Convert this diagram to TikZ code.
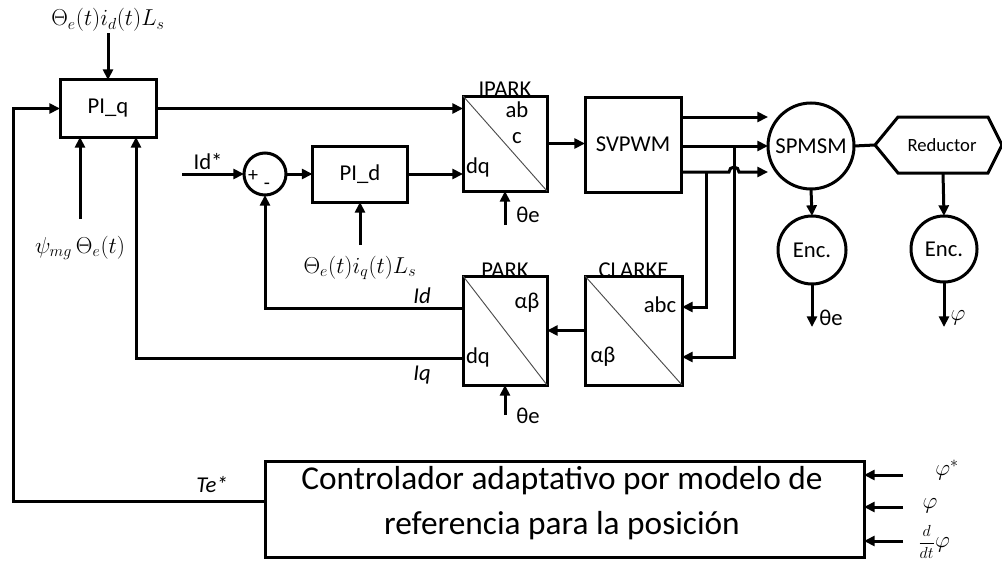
\documentclass[tikz,border=0pt]{standalone}
\usepackage{fontspec}
\setmainfont{Carlito}
\usetikzlibrary{arrows.meta}
\begin{document}
\begin{tikzpicture}[x=0.75pt,y=-0.75pt,
  every node/.style={font=\fontsize{17}{20}\selectfont,inner sep=1pt},
  ln/.style={line width=2.25pt},
  arr/.style={line width=2.25pt,-{Triangle[length=8pt,width=7.5pt]}},
  blk/.style={draw,line width=2.25pt,rectangle,inner sep=0pt,outer sep=0pt},
  rnd/.style={draw,line width=2.25pt,circle,inner sep=0pt,outer sep=0pt},
  diag/.style={line width=0.7pt,black!70},
  mth/.style={font=\fontsize{18.5}{22}\selectfont},
  itl/.style={font=\fontsize{17}{20}\selectfont\itshape},
]
\useasboundingbox (0,0) rectangle (1002,567);

% blocks
\node[blk,minimum width=96*0.75pt,minimum height=57*0.75pt] (piq) at (108,108.5) {PI\_q};
\node[blk,minimum width=95*0.75pt,minimum height=56*0.75pt] (pid) at (360,174) {PI\_d};
\node[blk,minimum width=84*0.75pt,minimum height=95*0.75pt] (ipark) at (505,143.5) {};
\node[blk,minimum width=96*0.75pt,minimum height=95*0.75pt] (svpwm) at (633,144.5) {SVPWM};
\node[blk,minimum width=84*0.75pt,minimum height=109*0.75pt] (park) at (505,330.5) {};
\node[blk,minimum width=97*0.75pt,minimum height=109*0.75pt] (clarke) at (633.5,330.5) {};
\node[rnd,minimum size=86*0.75pt] (spmsm) at (811,146) {SPMSM};
\node[rnd,minimum size=68*0.75pt] (enc1) at (812,250) {Enc.};
\node[rnd,minimum size=66*0.75pt] (enc2) at (944,249) {Enc.};
\node[rnd,minimum size=42*0.75pt] (sum) at (265,174) {};
\node[blk,minimum width=599*0.75pt,minimum height=96*0.75pt] (ctrl) at (564.5,509) {};
\node[align=center,font=\fontsize{25}{34}\selectfont] (ctrltxt) at (562,503)
  {Controlador adaptativo por modelo de\\referencia para la posición};

% reductor hexagon
\coordinate (rl) at (875,145);
\coordinate (rb) at (943,173);
\draw[ln,line join=miter] (rl) -- (898,117) -- (988,117) -- (1002,145) -- (988,173) -- (898,173) -- cycle;
\node[font=\fontsize{14}{16}\selectfont] (red) at (942,145) {Reductor};

% diagonals
\draw[diag] (ipark.north west) -- (ipark.south east);
\draw[diag] (park.north west) -- (park.south east);
\draw[diag] (clarke.north west) -- (clarke.south east);

% block titles and port labels
\node[anchor=base] (tipark) at (505,96) {IPARK};
\node[anchor=base] (tpark) at (505,277) {PARK};
\node[anchor=base] (tclarke) at (633.5,277) {CLARKE};
\node (pab) at (517,110) {ab};
\node (pc) at (517,138) {c};
\node (pdq) at (478,167) {dq};
\node (qab) at (527,303) {αβ};
\node (qdq) at (478,357) {dq};
\node (cabc) at (660,305) {abc};
\node (cab) at (603,357) {αβ};

% sum signs
\node[font=\fontsize{15}{17}\selectfont] (plus) at (253,176) {+};
\node[font=\fontsize{15}{17}\selectfont] (minus) at (267,186) {-};

% PI_q inputs
\node[mth] (lt) at (108,20) {$\Theta_e(t)i_d(t)L_s$};
\draw[arr] (lt.south) -- (piq.north);
\node (lpsi) at (80,248) {$\psi_{mg}\,\Theta_e(t)$};
\coordinate (psiin) at (80,219);
\draw[arr] (psiin) -- (piq.south -| psiin);

% left feedback Te*
\coordinate (fb) at (13,501);
\draw[arr] (ctrl.west |- fb) -- (fb) |- (piq.west);
\node[itl] (lte) at (212,485) {Te*};

% Iq feedback
\coordinate (iqc) at (136,358);
\draw[arr] (park.west |- iqc) -- (iqc) -- (piq.south -| iqc);
\node[itl] (liq) at (422,375) {Iq};

% Id path
\coordinate (ids) at (182,174);
\draw[arr] (ids) -- (sum.west);
\node (lids) at (208,162) {Id*};
\draw[arr] (sum.east) -- (pid.west);
\draw[arr] (pid.east) -- (ipark.west |- pid.east);
\coordinate (pidin) at (360,245);
\draw[arr] (pidin) -- (pid.south);
\node[mth] (lpid) at (360,268) {$\Theta_e(t)i_q(t)L_s$};
\coordinate (idc) at (265,308);
\draw[arr] (park.west |- idc) -- (idc) -- (sum.south);
\node[itl] (lid) at (422,296) {Id};

% PI_q to IPARK
\draw[arr] (piq.east) -- (ipark.west |- piq.east);

% IPARK
\coordinate (th1) at (505,225);
\draw[arr] (th1) -- (ipark.south);
\node (lth1) at (528,215) {θe};
\draw[arr] (ipark.east) -- (svpwm.west |- ipark.east);

% SVPWM outputs
\coordinate (y1) at (0,117);
\coordinate (y2) at (0,146);
\coordinate (y3) at (0,172);
\draw[arr] (svpwm.east |- y1) -- (spmsm.west |- y1);
\draw[arr] (svpwm.east |- y2) -- (spmsm.west);
\draw[arr] (svpwm.east |- y3) -- (729,172) arc[start angle=180,end angle=0,radius=3.75pt] -- (spmsm.west |- y3);

% feedback to CLARKE
\coordinate (v1) at (706,172);
\coordinate (v2) at (734,146);
\coordinate (y4) at (0,307);
\coordinate (y5) at (0,357);
\draw[arr] (v1) |- (clarke.east |- y4);
\draw[arr] (v2) |- (clarke.east |- y5);

% CLARKE to PARK
\draw[arr] (clarke.west) -- (park.east);
\coordinate (th2) at (505,415);
\draw[arr] (th2) -- (park.south);
\node (lth2) at (528,416) {θe};

% motor side
\draw[ln] (spmsm.east) -- (rl);
\draw[arr] (spmsm.south) -- (enc1.north);
\coordinate (e1o) at (812,327);
\draw[arr] (enc1.south) -- (e1o);
\node (lth3) at (831,318) {θe};
\draw[arr] (rb) -- (enc2.north);
\coordinate (e2o) at (944,327);
\draw[arr] (enc2.south) -- (e2o);
\node (lphi) at (958,318) {$\varphi$};

% controller inputs
\coordinate (in1) at (903,475);
\coordinate (in2) at (903,507);
\coordinate (in3) at (903,541);
\draw[arr] (in1) -- (ctrl.east |- in1);
\draw[arr] (in2) -- (ctrl.east |- in2);
\draw[arr] (in3) -- (ctrl.east |- in3);
\node (lp1) at (947,470) {$\varphi^{*}$};
\node (lp2) at (930,506) {$\varphi$};
\node (lp3) at (934,542) {{\fontsize{13}{15}\selectfont$\displaystyle\frac{d}{dt}$}$\varphi$};
\end{tikzpicture}
\end{document}
